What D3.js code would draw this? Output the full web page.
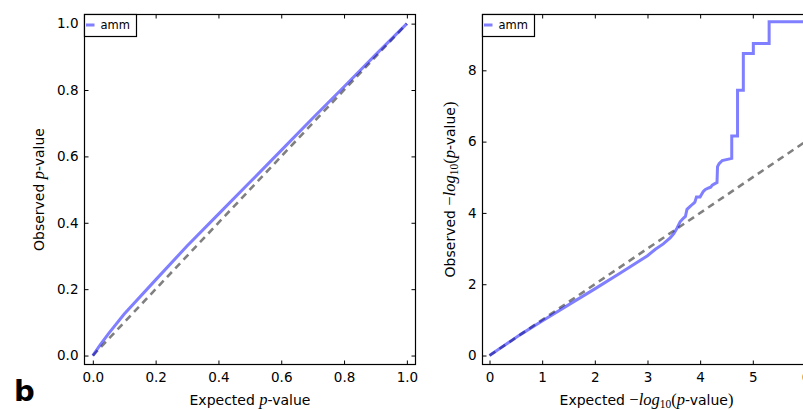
<!DOCTYPE html>
<html>
<head>
<meta charset="utf-8">
<script src="https://cdn.jsdelivr.net/npm/d3@7"></script>
<style>
  html, body { margin: 0; padding: 0; background: #fff; }
  svg { display: block; }
  text { font-family: "DejaVu Sans", sans-serif; fill: #000; }
  .math { font-family: "Liberation Serif", "DejaVu Serif", serif; }
</style>
</head>
<body>
<svg id="chart" width="803" height="410"></svg>
<script>
// Q-Q plot on the p-value scale
const pExpected = [0, 0.024, 0.05, 0.1, 0.2, 0.3, 0.4, 0.5, 0.6, 0.7, 0.8, 0.9, 1.0];
const pObserved = [0, 0.033, 0.066, 0.125, 0.228, 0.33, 0.426, 0.522, 0.618, 0.715, 0.81, 0.906, 1.0];

// Q-Q plot on the -log10 scale
const logExpected = [0, 0.3, 0.6, 1.0, 1.5, 2.0, 2.5, 3.0, 3.15, 3.3, 3.43, 3.5, 3.56, 3.62, 3.68, 3.72,
  3.75, 3.8, 3.86, 3.9, 3.93, 4.0, 4.02, 4.06, 4.1, 4.16, 4.2, 4.23, 4.28, 4.32, 4.33, 4.36, 4.42,
  4.6, 4.6, 4.71, 4.71, 4.82, 4.82, 5.01, 5.01, 5.31, 5.31, 6.3];
const logObserved = [0, 0.3, 0.6, 0.97, 1.42, 1.87, 2.33, 2.8, 2.98, 3.13, 3.3, 3.42, 3.57, 3.75, 3.85, 3.9,
  4.1, 4.17, 4.25, 4.3, 4.45, 4.45, 4.5, 4.6, 4.66, 4.7, 4.72, 4.78, 4.82, 4.85, 5.3, 5.38, 5.47,
  5.53, 6.16, 6.16, 7.44, 7.44, 8.47, 8.47, 8.75, 8.75, 9.36, 9.36];

const pTicks = [0, 0.2, 0.4, 0.6, 0.8, 1.0];
const logXTicks = [0, 1, 2, 3, 4, 5, 6];
const logYTicks = [0, 2, 4, 6, 8];
const seriesName = "amm";

const svg = d3.select("#chart");

// label pieces: [text, kind] where kind is "sans", "mi" (math italic), "mr" (math roman), "sub"
const pLabelX = [["Expected ", "sans"], ["p", "mi"], ["-value", "sans"]];
const pLabelY = [["Observed ", "sans"], ["p", "mi"], ["-value", "sans"]];
const logLabelX = [["Expected ", "sans"], ["\u2212", "mr"], ["log", "mi"], ["10", "sub"], ["(", "mr"], ["p", "mi"], ["-value", "sans"], [")", "mr"]];
const logLabelY = [["Observed ", "sans"], ["\u2212", "mr"], ["log", "mi"], ["10", "sub"], ["(", "mr"], ["p", "mi"], ["-value", "sans"], [")", "mr"]];

function writeLabel(text, parts) {
  let shifted = false;
  parts.forEach(([s, kind]) => {
    const t = text.append("tspan").text(s);
    if (kind === "sans") t.attr("font-size", 14);
    if (kind === "mi") t.attr("class", "math").attr("font-style", "italic").attr("font-size", 16.5);
    if (kind === "mr") t.attr("class", "math").attr("font-size", 16.5);
    if (kind === "sub") { t.attr("class", "math").attr("font-size", 11.5).attr("dy", 3); shifted = true; }
    else if (shifted) { t.attr("dy", -3); shifted = false; }
  });
}

function panel(cfg) {
  const x = d3.scaleLinear().domain(cfg.xDomain).range([cfg.left, cfg.right]);
  const y = d3.scaleLinear().domain(cfg.yDomain).range([cfg.bottom, cfg.top]);
  const g = svg.append("g");
  const clipId = "clip-" + cfg.id;

  g.append("clipPath").attr("id", clipId).append("rect")
    .attr("x", cfg.left).attr("y", cfg.top)
    .attr("width", cfg.right - cfg.left).attr("height", cfg.bottom - cfg.top);

  // reference diagonal
  const diag = [cfg.diag[0], cfg.diag[1]];
  g.append("path")
    .attr("clip-path", `url(#${clipId})`)
    .attr("d", d3.line().x(d => x(d)).y(d => y(d))(diag))
    .attr("fill", "none").attr("stroke", "#808080")
    .attr("stroke-width", 2.6).attr("stroke-dasharray", "7,5");

  // observed series
  const pts = cfg.xs.map((v, i) => [v, cfg.ys[i]]);
  g.append("path")
    .attr("clip-path", `url(#${clipId})`)
    .attr("d", d3.line().x(d => x(d[0])).y(d => y(d[1]))(pts))
    .attr("fill", "none").attr("stroke", "rgba(0,0,255,0.5)")
    .attr("stroke-width", 3).attr("stroke-linejoin", "miter");

  // axes with inward ticks on all four sides
  const bottomAx = g.append("g").attr("transform", `translate(0,${cfg.bottom})`)
    .call(d3.axisBottom(x).tickValues(cfg.xTicks).tickFormat(cfg.xFmt).tickSizeInner(-4).tickSizeOuter(0).tickPadding(7.5));
  const leftAx = g.append("g").attr("transform", `translate(${cfg.left},0)`)
    .call(d3.axisLeft(y).tickValues(cfg.yTicks).tickFormat(cfg.yFmt).tickSizeInner(-4).tickSizeOuter(0).tickPadding(6));
  const topAx = g.append("g").attr("transform", `translate(0,${cfg.top})`)
    .call(d3.axisTop(x).tickValues(cfg.xTicks).tickFormat(() => "").tickSizeInner(-4).tickSizeOuter(0));
  const rightAx = g.append("g").attr("transform", `translate(${cfg.right},0)`)
    .call(d3.axisRight(y).tickValues(cfg.yTicks).tickFormat(() => "").tickSizeInner(-4).tickSizeOuter(0));
  [bottomAx, leftAx, topAx, rightAx].forEach(a => {
    a.select(".domain").remove();
    a.selectAll(".tick line").attr("stroke", "#000").attr("stroke-width", 1);
    a.selectAll(".tick text").attr("font-family", "DejaVu Sans, sans-serif").attr("font-size", 13.5).attr("fill", "#000");
  });

  // frame
  g.append("rect")
    .attr("x", cfg.left).attr("y", cfg.top)
    .attr("width", cfg.right - cfg.left).attr("height", cfg.bottom - cfg.top)
    .attr("fill", "none").attr("stroke", "#000").attr("stroke-width", 1.2);

  // legend
  const lg = g.append("g").attr("transform", `translate(${cfg.left},${cfg.top})`);
  lg.append("rect").attr("x", 0).attr("y", 0).attr("width", 52).attr("height", 22)
    .attr("fill", "#fff").attr("stroke", "#000").attr("stroke-width", 1.2);
  lg.append("line").attr("x1", 1.5).attr("x2", 10).attr("y1", 10.5).attr("y2", 10.5)
    .attr("stroke", "rgba(0,0,255,0.5)").attr("stroke-width", 3);
  lg.append("text").attr("x", 16).attr("y", 14.5).attr("font-size", 11.5).text(seriesName);

  // axis titles
  const xt = g.append("text").attr("x", cfg.xTitleX).attr("y", 405).attr("text-anchor", "middle");
  writeLabel(xt, cfg.xLabel);
  const yt = g.append("text")
    .attr("transform", `translate(${cfg.yTitleX},${(cfg.top + cfg.bottom) / 2}) rotate(-90)`)
    .attr("text-anchor", "middle");
  writeLabel(yt, cfg.yLabel);
}

panel({
  id: "p", left: 84.5, right: 415.5, top: 14.5, bottom: 364.5,
  xDomain: [-0.0265, 1.0275], yDomain: [-0.027, 1.0275],
  xTicks: pTicks, yTicks: pTicks, xFmt: d3.format(".1f"), yFmt: d3.format(".1f"),
  xs: pExpected, ys: pObserved, diag: [0, 1],
  xLabel: pLabelX, yLabel: pLabelY, xTitleX: 250, yTitleX: 44
});

panel({
  id: "log", left: 482.5, right: 811, top: 14.5, bottom: 364.5,
  xDomain: [-0.133, 6.105], yDomain: [-0.252, 9.566],
  xTicks: logXTicks, yTicks: logYTicks, xFmt: d3.format("d"), yFmt: d3.format("d"),
  xs: logExpected, ys: logObserved, diag: [0, 6.3],
  xLabel: logLabelX, yLabel: logLabelY, xTitleX: 646.5, yTitleX: 455
});

// panel letter
svg.append("text").attr("x", 14).attr("y", 401)
  .attr("font-family", "Liberation Sans, Arial, sans-serif")
  .attr("font-weight", "bold").attr("font-size", 29).text("b");
</script>
</body>
</html>
